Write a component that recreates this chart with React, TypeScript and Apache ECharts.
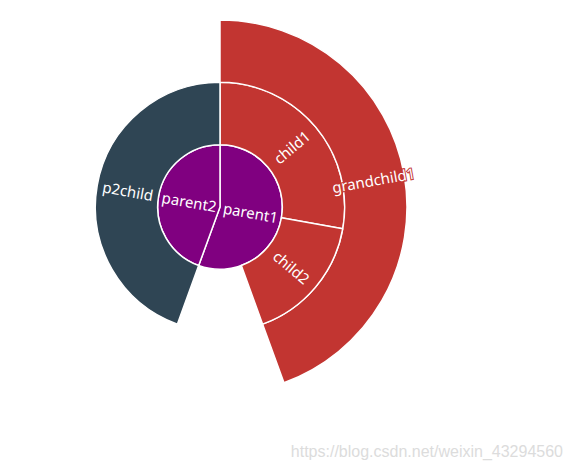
import React, { useEffect, useRef } from "react";
import * as echarts from "echarts";

const parentNames = ["parent1", "parent2"];
const parentValues = [10, 8];
const parentColor = "#800080";
const branchColors = ["#c23531", "#2f4554"];

const p1ChildNames = ["child1", "child2"];
const p1ChildValues = [5, 3];
const grandchildNames = ["grandchild1"];
const grandchildValues = [8];
const p2ChildNames = ["p2child"];
const p2ChildValues = [8];

const watermark = "https://blog.csdn.net/weixin_43294560";

function lbl(color: string) {
  return { color: "#fff", textBorderColor: color, textBorderWidth: 2 };
}

export default function App() {
  const ref = useRef<HTMLDivElement>(null);
  useEffect(() => {
    if (!ref.current) return;
    const chart = echarts.init(ref.current, undefined, { renderer: "svg" });
    const c1 = branchColors[0];
    const c2 = branchColors[1];
    const data = [
      {
        name: parentNames[0],
        value: parentValues[0],
        itemStyle: { color: parentColor },
        label: lbl(parentColor),
        children: [
          {
            name: p1ChildNames[0],
            value: p1ChildValues[0],
            itemStyle: { color: c1 },
            label: lbl(c1),
            children: [
              {
                name: grandchildNames[0],
                value: grandchildValues[0],
                itemStyle: { color: c1 },
                label: lbl(c1),
              },
            ],
          },
          {
            name: p1ChildNames[1],
            value: p1ChildValues[1],
            itemStyle: { color: c1 },
            label: lbl(c1),
          },
        ],
      },
      {
        name: parentNames[1],
        value: parentValues[1],
        itemStyle: { color: parentColor },
        label: lbl(parentColor),
        children: [
          {
            name: p2ChildNames[0],
            value: p2ChildValues[0],
            itemStyle: { color: c2 },
            label: lbl(c2),
          },
        ],
      },
    ];
    chart.setOption({
      animation: false,
      graphic: [
        {
          type: "text",
          right: 9,
          top: 443,
          style: {
            text: watermark,
            fill: "#dcdcdc",
            font: '16px "Liberation Sans", Arial, sans-serif',
          },
        },
      ],
      series: [
        {
          type: "sunburst",
          center: [220, 207],
          radius: [0, 187],
          sort: null,
          startAngle: 90,
          clockwise: true,
          data,
          itemStyle: { borderColor: "#fff", borderWidth: 1.5 },
          label: {
            rotate: "radial",
            color: "#fff",
            fontSize: 15,
            fontFamily: '"Noto Sans", "Open Sans", sans-serif',
          },
        },
      ],
    });
    return () => chart.dispose();
  }, []);
  return (
    <div
      ref={ref}
      style={{ position: "fixed", left: 0, top: 0, width: 572, height: 471, background: "#fff" }}
    />
  );
}
